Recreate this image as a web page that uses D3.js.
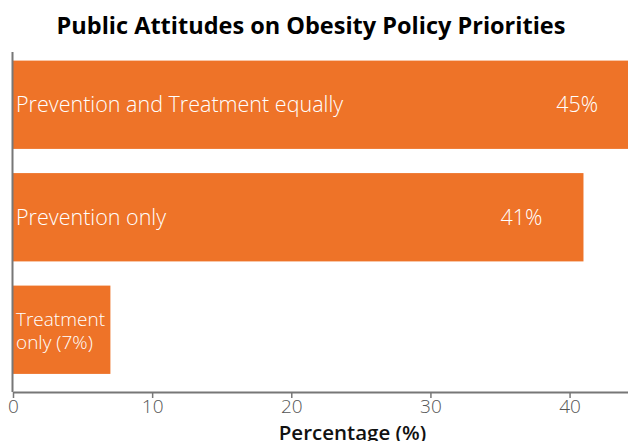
<!DOCTYPE html>
<html>
<head>
<meta charset="utf-8">
<script src="https://cdn.jsdelivr.net/npm/d3@7"></script>
<style>
  html, body { margin: 0; padding: 0; background: #fff; }
  svg { display: block; font-family: "Open Sans", sans-serif; }
</style>
</head>
<body>
<svg id="chart" width="628" height="441"></svg>
<script>
// Survey responses: which obesity policy should be prioritised
const categories = ["Prevention and Treatment equally", "Prevention only", "Treatment only"];
const values = [45, 41, 7];
const valueLabels = ["45%", "41%", "7%"];
const xTicks = [0, 10, 20, 30, 40];

const W = 628, H = 441;
const margin = { top: 52, right: 0, bottom: 49, left: 13 };
const orange = "#ee7328";
const axisGrey = "#777";

const svg = d3.select("#chart");

const x = d3.scaleLinear()
  .domain([0, 44.2])
  .range([margin.left, W - margin.right]);

const y = d3.scaleBand()
  .domain(categories)
  .range([margin.top - 3.5, H - margin.bottom - 6])
  .paddingInner(0.215)
  .paddingOuter(0.1075);

const plot = svg.append("g");
plot.append("clipPath").attr("id", "plotClip")
  .append("rect")
  .attr("x", margin.left).attr("y", margin.top)
  .attr("width", W - margin.left - margin.right)
  .attr("height", H - margin.top - margin.bottom);

const rows = categories.map((c, i) => ({ cat: c, value: values[i], label: valueLabels[i] }));

// bars
plot.append("g").attr("clip-path", "url(#plotClip)")
  .selectAll("rect")
  .data(rows)
  .join("rect")
  .attr("x", x(0))
  .attr("y", d => y(d.cat))
  .attr("width", d => x(d.value) - x(0))
  .attr("height", y.bandwidth())
  .attr("fill", orange);

// category labels inside the bars
const big = rows.filter(d => d.value > 20);
plot.append("g").selectAll("text")
  .data(big)
  .join("text")
  .attr("x", x(0) + 3)
  .attr("y", d => y(d.cat) + y.bandwidth() / 2)
  .attr("dy", "0.36em")
  .attr("fill", "#fff")
  .attr("font-size", 21.5)
  .attr("font-weight", 300)
  .text(d => d.cat);

// value labels near the bar ends
plot.append("g").selectAll("text")
  .data(big)
  .join("text")
  .attr("x", d => x(d.value) - 41)
  .attr("y", d => y(d.cat) + y.bandwidth() / 2)
  .attr("dy", "0.36em")
  .attr("text-anchor", "end")
  .attr("fill", "#fff")
  .attr("font-size", 21.5)
  .attr("font-weight", 300)
  .text(d => d.label);

// short bar: wrapped label with value in parentheses, one text per line
const small = rows.filter(d => d.value <= 20);
small.forEach(d => {
  const words = d.cat.split(" ");
  const lines = [words[0], words.slice(1).join(" ") + " (" + d.label + ")"];
  const cy = y(d.cat) + y.bandwidth() / 2;
  plot.append("g").selectAll("text")
    .data(lines)
    .join("text")
    .attr("x", x(0) + 3)
    .attr("y", (ln, i) => cy + (i === 0 ? -4 : 19.5))
    .attr("fill", "#fff")
    .attr("font-size", 19)
    .attr("font-weight", 300)
    .text(ln => ln);
});

// x axis
const xAxis = d3.axisBottom(x)
  .tickValues(xTicks)
  .tickSize(6)
  .tickPadding(2)
  .tickSizeOuter(0);

const gx = svg.append("g")
  .attr("transform", `translate(0,${H - margin.bottom})`)
  .call(xAxis);
gx.select(".domain").attr("stroke", axisGrey).attr("stroke-width", 2);
gx.selectAll(".tick line").attr("stroke", axisGrey).attr("stroke-width", 1.5);
gx.selectAll(".tick text")
  .attr("fill", "#555")
  .attr("font-size", 19)
  .attr("font-weight", 300)
  .attr("font-family", "Open Sans, sans-serif");

// y axis line
svg.append("line")
  .attr("x1", margin.left - 0.5).attr("x2", margin.left - 0.5)
  .attr("y1", margin.top).attr("y2", H - margin.bottom)
  .attr("stroke", axisGrey)
  .attr("stroke-width", 2);

// axis title
svg.append("text")
  .attr("x", (x(0) + W) / 2 + 32)
  .attr("y", H - 1)
  .attr("text-anchor", "middle")
  .attr("font-size", 20.5)
  .attr("font-weight", 600)
  .attr("fill", "#111")
  .text("Percentage (%)");

// chart title
svg.append("text")
  .attr("x", W / 2 - 3)
  .attr("y", 34)
  .attr("text-anchor", "middle")
  .attr("font-size", 23.5)
  .attr("font-weight", 700)
  .attr("fill", "#000")
  .text("Public Attitudes on Obesity Policy Priorities");
</script>
</body>
</html>
